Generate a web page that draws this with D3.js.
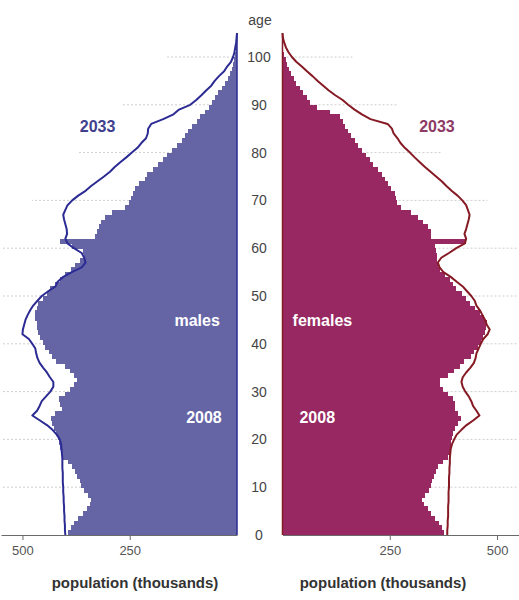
<!DOCTYPE html>
<html>
<head>
<meta charset="utf-8">
<script src="https://cdn.jsdelivr.net/npm/d3@7"></script>
<style>
body { margin: 0; background: #fff; }
text { font-family: "Liberation Sans", Arial, sans-serif; }
</style>
</head>
<body>
<svg class="chart"></svg>
<script>

// population by single year of age, thousands (2008 bars, 2033 projection lines)
var male2008 = [395, 388, 379, 370, 358, 349, 342, 340, 347, 356,
  363, 367, 372, 377, 384, 393, 405, 409, 412, 414,
  416, 421, 426, 432, 433, 425, 408, 412, 414, 400,
  390, 380, 372, 380, 390, 402, 422, 430, 437, 447,
  453, 458, 463, 465, 467, 470, 470, 467, 463, 453,
  442, 435, 423, 412, 400, 388, 377, 365, 356, 360,
  384, 412, 330, 326, 321, 316, 307, 291, 260, 251,
  247, 242, 237, 228, 214, 209, 195, 184, 172, 163,
  151, 140, 128, 121, 114, 105, 93, 86, 74, 65,
  58, 51, 44, 35, 28, 21, 16, 12, 9, 7,
  5, 3, 2, 1];

var female2008 = [377, 372, 364, 355, 346, 338, 330, 326, 333, 341,
  346, 349, 353, 357, 363, 374, 385, 390, 392, 393,
  394, 397, 403, 410, 417, 408, 402, 401, 398, 385,
  375, 368, 366, 385, 400, 413, 424, 440, 447, 455,
  462, 468, 472, 475, 476, 470, 460, 448, 437, 427,
  418, 405, 398, 390, 378, 368, 362, 360, 360, 358,
  356, 428, 347, 345, 340, 328, 316, 299, 275, 267,
  265, 262, 254, 245, 238, 231, 222, 212, 204, 194,
  185, 177, 169, 160, 152, 146, 140, 134, 110, 80,
  65, 56, 48, 40, 32, 26, 19, 14, 10, 7,
  4, 2, 1, 0.5];

var male2033 = [400, 401, 401, 402, 402, 403, 403, 404, 404, 405,
  405, 406, 406, 406, 407, 407, 407, 408, 409, 410,
  413, 420, 430, 443, 460, 477, 466, 460, 455, 445,
  435, 428, 428, 436, 443, 452, 460, 465, 468, 470,
  477, 485, 500, 499, 496, 493, 488, 482, 475, 465,
  455, 440, 423, 418, 405, 385, 362, 353, 356, 362,
  380, 395, 400, 396, 397, 400, 403, 405, 400, 395,
  384, 370, 353, 340, 325, 310, 296, 285, 272, 258,
  245, 232, 223, 212, 208, 207, 200, 172, 148, 135,
  109, 95, 83, 72, 60, 52, 42, 30, 23, 14,
  9, 6, 4, 2, 1, 0];

var female2033 = [384, 384, 385, 385, 386, 386, 386, 387, 387, 387,
  388, 388, 388, 389, 389, 390, 390, 391, 392, 395,
  400, 406, 417, 429, 445, 459, 452, 444, 440, 434,
  426, 420, 417, 420, 428, 438, 446, 450, 452, 457,
  462, 468, 478, 483, 476, 472, 466, 460, 452, 448,
  440, 430, 420, 406, 392, 375, 366, 362, 370, 388,
  405, 425, 428, 424, 428, 431, 434, 436, 432, 428,
  419, 408, 394, 382, 371, 358, 345, 332, 320, 308,
  297, 285, 275, 268, 259, 255, 245, 205, 185, 168,
  153, 140, 123, 108, 95, 82, 70, 57, 45, 32,
  22, 14, 8, 4, 1, 0];

var ageTicks = [0, 10, 20, 30, 40, 50, 60, 70, 80, 90, 100];
var popTicks = [250, 500];

var maleBar = '#6565a6', femaleBar = '#982862';
var maleLine = '#2b2b93', femaleLine = '#861a24';

var width = 519, height = 600;

var chart = d3.select('.chart')
  .attr('width', width)
  .attr('height', height);

var y = d3.scaleLinear().domain([0, 100]).range([535, 57]);
var xM = d3.scaleLinear().domain([0, 550]).range([237, 1]);
var xF = d3.scaleLinear().domain([0, 550]).range([282.5, 518.5]);

// gridlines (they fade out towards the top in the original, so shorten them)
function gridReach(a) { return Math.min(550, (115.5 - a) * 10.5); }

var grid = chart.append('g');
grid.selectAll('.gl')
  .data(ageTicks.slice(1))
  .enter().append('line')
  .attr('x1', xM(0)).attr('x2', function(d) { return xM(gridReach(d)); })
  .attr('y1', function(d) { return y(d); }).attr('y2', function(d) { return y(d); });
grid.selectAll('.gr')
  .data(ageTicks.slice(1))
  .enter().append('line')
  .attr('x1', xF(0)).attr('x2', function(d) { return xF(gridReach(d)); })
  .attr('y1', function(d) { return y(d); }).attr('y2', function(d) { return y(d); });
grid.selectAll('line')
  .attr('stroke', '#cfcfcf')
  .attr('stroke-dasharray', '2,2');

// bars 2008 (overlap a pixel so no seams show between ages)
chart.append('g').selectAll('rect')
  .data(male2008)
  .enter().append('rect')
  .attr('x', function(d) { return xM(d); })
  .attr('width', function(d) { return xM(0) - xM(d); })
  .attr('y', function(d, i) { return y(i + 1); })
  .attr('height', function(d, i) { return y(i) - y(i + 1) + 1; })
  .attr('shape-rendering', 'crispEdges')
  .attr('fill', maleBar);

chart.append('g').selectAll('rect')
  .data(female2008)
  .enter().append('rect')
  .attr('x', xF(0))
  .attr('width', function(d) { return xF(d) - xF(0); })
  .attr('y', function(d, i) { return y(i + 1); })
  .attr('height', function(d, i) { return y(i) - y(i + 1) + 1; })
  .attr('shape-rendering', 'crispEdges')
  .attr('fill', femaleBar);

// vertical axes
chart.append('line')
  .attr('x1', xM(0)).attr('x2', xM(0))
  .attr('y1', y(0)).attr('y2', y(105))
  .attr('stroke', maleLine).attr('stroke-width', 1.5);
chart.append('line')
  .attr('x1', xF(0)).attr('x2', xF(0))
  .attr('y1', y(0)).attr('y2', y(105))
  .attr('stroke', femaleLine).attr('stroke-width', 1.5);

// 2033 lines
chart.append('path')
  .datum(male2033)
  .attr('fill', 'none')
  .attr('stroke', maleLine)
  .attr('stroke-width', 2)
  .attr('stroke-linejoin', 'round')
  .attr('d', d3.line().x(function(d) { return xM(d); }).y(function(d, i) { return y(i); }));

chart.append('path')
  .datum(female2033)
  .attr('fill', 'none')
  .attr('stroke', femaleLine)
  .attr('stroke-width', 2)
  .attr('stroke-linejoin', 'round')
  .attr('d', d3.line().x(function(d) { return xF(d); }).y(function(d, i) { return y(i); }));

// x axes
function styleAxis(g) {
  g.select('.domain').attr('stroke', '#6a6a6a');
  g.selectAll('.tick line').attr('stroke', '#6a6a6a');
  g.selectAll('.tick text')
    .attr('fill', '#555')
    .style('font-size', '13px')
    .style('font-family', '"Liberation Sans", Arial, sans-serif');
}

chart.append('g')
  .attr('transform', 'translate(0,' + y(0) + ')')
  .call(d3.axisBottom(xM).tickValues(popTicks).tickSize(5).tickSizeOuter(0).tickPadding(6))
  .call(styleAxis);

chart.append('g')
  .attr('transform', 'translate(0,' + y(0) + ')')
  .call(d3.axisBottom(xF).tickValues(popTicks).tickSize(5).tickSizeOuter(0).tickPadding(6))
  .call(styleAxis);

// age labels in the middle
chart.append('g').selectAll('text')
  .data(ageTicks)
  .enter().append('text')
  .attr('x', 259)
  .attr('y', function(d) { return y(d); })
  .attr('dy', '0.35em')
  .attr('text-anchor', 'middle')
  .attr('fill', '#444')
  .style('font-size', '14px')
  .text(function(d) { return d; });

chart.append('text')
  .attr('x', 260).attr('y', 20)
  .attr('dy', '0.35em')
  .attr('text-anchor', 'middle')
  .attr('fill', '#444')
  .style('font-size', '14px')
  .text('age');

// annotations
function label(x, yy, txt, col) {
  chart.append('text')
    .attr('x', x).attr('y', yy)
    .attr('dy', '0.35em')
    .attr('text-anchor', 'middle')
    .attr('fill', col)
    .style('font-size', '16px')
    .style('font-weight', 'bold')
    .text(txt);
}
label(xM(325), y(85.5), '2033', '#40408e');
label(xF(360), y(85.5), '2033', '#8e3a66');
label(xM(93), y(45), 'males', '#fff');
label(xF(93), y(45), 'females', '#fff');
label(xM(77), y(24.5), '2008', '#fff');
label(xF(81), y(24.5), '2008', '#fff');

chart.append('text')
  .attr('x', 135).attr('y', 583)
  .attr('dy', '0.35em')
  .attr('text-anchor', 'middle')
  .attr('fill', '#333')
  .style('font-size', '15px')
  .style('font-weight', 'bold')
  .text('population (thousands)');

chart.append('text')
  .attr('x', 383).attr('y', 583)
  .attr('dy', '0.35em')
  .attr('text-anchor', 'middle')
  .attr('fill', '#333')
  .style('font-size', '15px')
  .style('font-weight', 'bold')
  .text('population (thousands)');

</script>
</body>
</html>
